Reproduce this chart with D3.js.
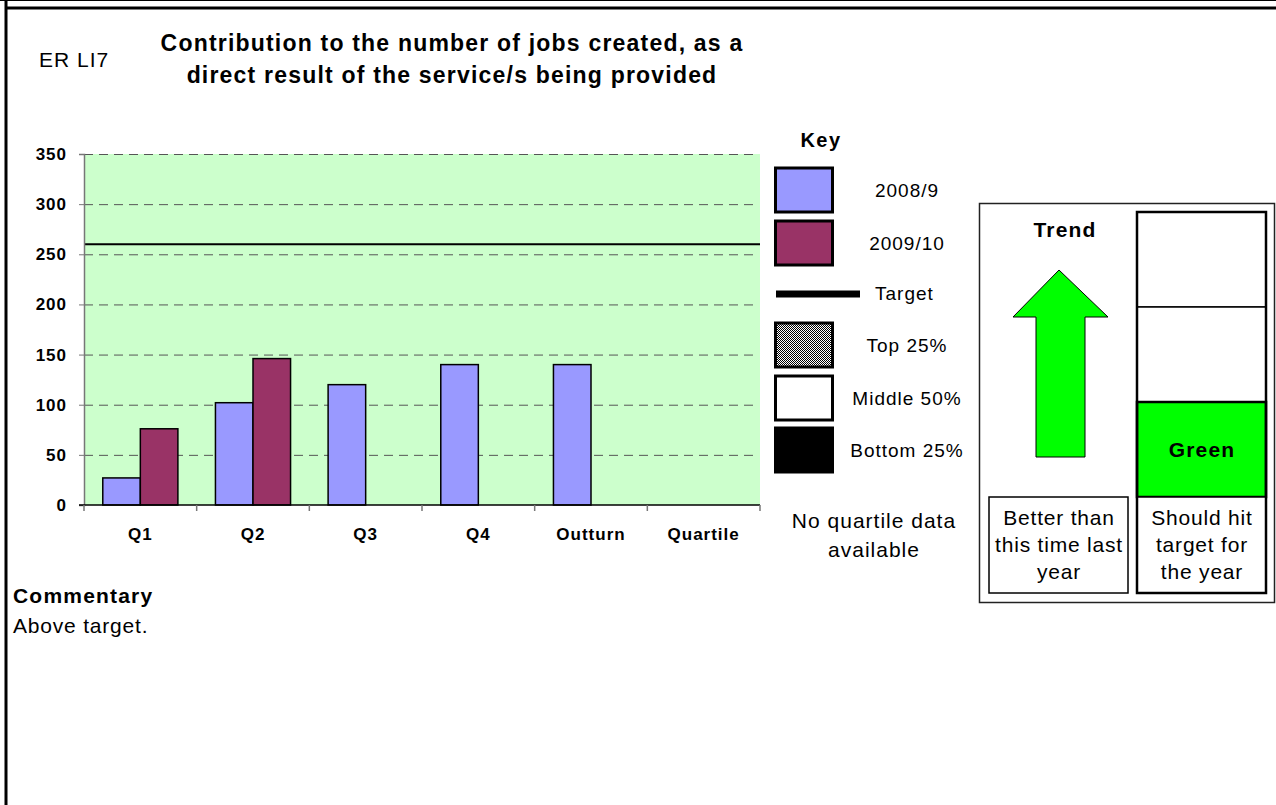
<!DOCTYPE html>
<html>
<head>
<meta charset="utf-8">
<script src="https://cdn.jsdelivr.net/npm/d3@7"></script>
<style>
  body { margin: 0; background: #fff; }
  svg { display: block; font-family: "Liberation Sans", Arial, sans-serif; }
</style>
</head>
<body>
<svg id="chart" width="1276" height="805"></svg>
<script>
// data
var categories = ["Q1", "Q2", "Q3", "Q4", "Outturn", "Quartile"];
var seriesNames = ["2008/9", "2009/10"];
var values2008 = [27, 102, 120, 140, 140, null];
var values2009 = [76, 146, null, null, null, null];
var targetValue = 260;
var yTicks = [0, 50, 100, 150, 200, 250, 300, 350];
var seriesColors = ["#9999ff", "#993366"];

var legendItems = [
    { label: "2008/9", kind: "box", fill: "#9999ff" },
    { label: "2009/10", kind: "box", fill: "#993366" },
    { label: "Target", kind: "line" },
    { label: "Top 25%", kind: "box", fill: "url(#dots)" },
    { label: "Middle 50%", kind: "box", fill: "#ffffff" },
    { label: "Bottom 25%", kind: "box", fill: "#000000" }
];

var svg = d3.select("#chart");

// excel-like text: a bit wider than plain Arial
function label(sel, size, bold, spacing) {
    return sel.attr("font-size", size)
        .attr("font-weight", bold ? "bold" : "normal")
        .attr("letter-spacing", spacing);
}

// dotted pattern for the top quartile swatch
var defs = svg.append("defs");
var pat = defs.append("pattern").attr("id", "dots")
    .attr("width", 2).attr("height", 2).attr("patternUnits", "userSpaceOnUse");
pat.append("rect").attr("width", 2).attr("height", 2).attr("fill", "#fff");
pat.append("rect").attr("width", 1).attr("height", 1).attr("fill", "#000");
pat.append("rect").attr("x", 1).attr("y", 1).attr("width", 1).attr("height", 1).attr("fill", "#000");

// page frame
svg.append("line").attr("x1", 0).attr("x2", 1276).attr("y1", 0.5).attr("y2", 0.5)
    .attr("stroke", "#000").attr("stroke-width", 1);
svg.append("line").attr("x1", 6).attr("x2", 1276).attr("y1", 8).attr("y2", 8)
    .attr("stroke", "#000").attr("stroke-width", 3);
svg.append("line").attr("x1", 6).attr("x2", 6).attr("y1", 0).attr("y2", 805)
    .attr("stroke", "#000").attr("stroke-width", 3);

// header
label(svg.append("text").attr("x", 39).attr("y", 67), 21, false, 1).text("ER LI7");
var title = label(svg.append("text").attr("text-anchor", "middle"), 23, true, 1.2);
title.append("tspan").attr("x", 452).attr("y", 51).text("Contribution to the number of jobs created, as a");
title.append("tspan").attr("x", 452).attr("y", 83).text("direct result of the service/s being provided");

// chart
var plot = { left: 84, right: 760, top: 154, bottom: 505 };

var x = d3.scaleBand().domain(categories).range([plot.left, plot.right]);
var x1 = d3.scaleBand().domain(seriesNames).range([0, x.bandwidth()])
    .paddingInner(0).paddingOuter(0.5);
var y = d3.scaleLinear().domain([0, 350]).range([plot.bottom, plot.top]);

svg.append("rect").attr("x", plot.left).attr("y", plot.top)
    .attr("width", plot.right - plot.left).attr("height", plot.bottom - plot.top)
    .attr("fill", "#ccffcc");

// gridlines
svg.append("g").selectAll("line").data(yTicks.filter(function (d) { return d > 0; }))
    .join("line")
    .attr("x1", plot.left).attr("x2", plot.right - 6)
    .attr("y1", function (d) { return y(d) + 0.5; }).attr("y2", function (d) { return y(d) + 0.5; })
    .attr("stroke", "#555").attr("stroke-width", 1).attr("stroke-dasharray", "9,6");

// bars
var rows = categories.map(function (c, i) {
    return { cat: c, vals: [values2008[i], values2009[i]] };
});
var groups = svg.append("g").selectAll("g").data(rows).join("g")
    .attr("transform", function (d) { return "translate(" + x(d.cat) + ",0)"; });
groups.selectAll("rect")
    .data(function (d) {
        return d.vals.map(function (v, j) { return { name: seriesNames[j], v: v, j: j }; })
            .filter(function (e) { return e.v != null; });
    })
    .join("rect")
    .attr("x", function (d) { return x1(d.name); })
    .attr("y", function (d) { return y(d.v); })
    .attr("width", x1.bandwidth())
    .attr("height", function (d) { return plot.bottom - y(d.v); })
    .attr("fill", function (d) { return seriesColors[d.j]; })
    .attr("stroke", "#000").attr("stroke-width", 1.5);

// target line
svg.append("line").attr("x1", plot.left).attr("x2", plot.right)
    .attr("y1", y(targetValue)).attr("y2", y(targetValue))
    .attr("stroke", "#000").attr("stroke-width", 2);

// y axis
var yAxis = svg.append("g").attr("transform", "translate(" + plot.left + ",0)")
    .call(d3.axisLeft(y).tickValues(yTicks).tickSize(5).tickPadding(12));
yAxis.select(".domain").attr("stroke", "#777").attr("stroke-width", 1.5);
yAxis.selectAll(".tick line").attr("stroke", "#777");
label(yAxis.selectAll("text"), 17, true, 1)
    .attr("font-family", "Liberation Sans, Arial, sans-serif").attr("fill", "#000");

// x axis: ticks on the category boundaries
var xAxis = svg.append("g").attr("transform", "translate(0," + plot.bottom + ")");
xAxis.append("line").attr("x1", plot.left - 5).attr("x2", plot.right)
    .attr("stroke", "#000").attr("stroke-width", 1.5);
var boundaries = categories.map(function (c) { return x(c); }).concat([plot.right]);
xAxis.selectAll("line.tk").data(boundaries).join("line").attr("class", "tk")
    .attr("x1", function (d) { return d; }).attr("x2", function (d) { return d; })
    .attr("y1", 0).attr("y2", 6).attr("stroke", "#777").attr("stroke-width", 1.5);
label(xAxis.selectAll("text").data(categories).join("text"), 17, true, 1)
    .attr("x", function (d) { return x(d) + x.bandwidth() / 2; })
    .attr("y", 35).attr("text-anchor", "middle").text(function (d) { return d; });

// key
label(svg.append("text").attr("x", 821).attr("y", 147).attr("text-anchor", "middle"), 20, true, 1.5)
    .text("Key");
var keyTops = [167, 220, 294, 322, 375, 427];
var key = svg.append("g").selectAll("g").data(legendItems).join("g");
key.each(function (d, i) {
    var g = d3.select(this);
    if (d.kind === "box") {
        g.append("rect").attr("x", 775.5).attr("y", keyTops[i] + 1)
            .attr("width", 57).attr("height", 44)
            .attr("fill", d.fill).attr("stroke", "#000").attr("stroke-width", 3);
        label(g.append("text").attr("x", 907).attr("y", keyTops[i] + 30)
            .attr("text-anchor", "middle"), 19, false, 1).text(d.label);
    } else {
        g.append("line").attr("x1", 776).attr("x2", 860)
            .attr("y1", keyTops[i]).attr("y2", keyTops[i])
            .attr("stroke", "#000").attr("stroke-width", 7);
        label(g.append("text").attr("x", 875).attr("y", keyTops[i] + 6), 19, false, 1)
            .text(d.label);
    }
});
var noQ = label(svg.append("text").attr("text-anchor", "middle"), 21, false, 1);
noQ.append("tspan").attr("x", 874).attr("y", 528).text("No quartile data");
noQ.append("tspan").attr("x", 874).attr("y", 557).text("available");

// trend / status panel
var panel = svg.append("g");
panel.append("rect").attr("x", 979.5).attr("y", 203.5).attr("width", 295).attr("height", 399)
    .attr("fill", "#fff").attr("stroke", "#222").attr("stroke-width", 1.5);
label(panel.append("text").attr("x", 1065).attr("y", 237).attr("text-anchor", "middle"), 21, true, 1.2)
    .text("Trend");
var arrow = [[1059, 270], [1108, 317], [1085, 317], [1085, 457], [1036, 457], [1036, 317], [1013, 317]];
panel.append("path").attr("d", d3.line()(arrow) + "Z")
    .attr("fill", "#00ff00").attr("stroke", "#000").attr("stroke-width", 1);
panel.append("rect").attr("x", 989).attr("y", 497).attr("width", 139).attr("height", 96)
    .attr("fill", "#fff").attr("stroke", "#000").attr("stroke-width", 1.5);
var lineYs = [525, 552, 579];
var better = label(panel.append("text").attr("text-anchor", "middle"), 21, false, 0.8);
["Better than", "this time last", "year"].forEach(function (t, i) {
    better.append("tspan").attr("x", 1059).attr("y", lineYs[i]).text(t);
});

var statusBands = [
    { y0: 212, y1: 307, fill: "#fff" },
    { y0: 307, y1: 402, fill: "#fff" },
    { y0: 402, y1: 497, fill: "#00ff00" },
    { y0: 497, y1: 593, fill: "#fff" }
];
panel.selectAll("rect.band").data(statusBands).join("rect").attr("class", "band")
    .attr("x", 1137).attr("y", function (d) { return d.y0; })
    .attr("width", 129).attr("height", function (d) { return d.y1 - d.y0; })
    .attr("fill", function (d) { return d.fill; })
    .attr("stroke", "#000").attr("stroke-width", function (d, i) { return i === 2 ? 2.5 : 1.5; });
panel.append("rect").attr("x", 1137).attr("y", 212).attr("width", 129).attr("height", 381)
    .attr("fill", "none").attr("stroke", "#000").attr("stroke-width", 2.5);
label(panel.append("text").attr("x", 1202).attr("y", 457).attr("text-anchor", "middle"), 21, true, 1.2)
    .text("Green");
var hit = label(panel.append("text").attr("text-anchor", "middle"), 21, false, 0.8);
["Should hit", "target for", "the year"].forEach(function (t, i) {
    hit.append("tspan").attr("x", 1202).attr("y", lineYs[i]).text(t);
});

// commentary
label(svg.append("text").attr("x", 13).attr("y", 603), 21, true, 1.2).text("Commentary");
label(svg.append("text").attr("x", 13).attr("y", 633), 21, false, 0.8).text("Above target.");
</script>
</body>
</html>
